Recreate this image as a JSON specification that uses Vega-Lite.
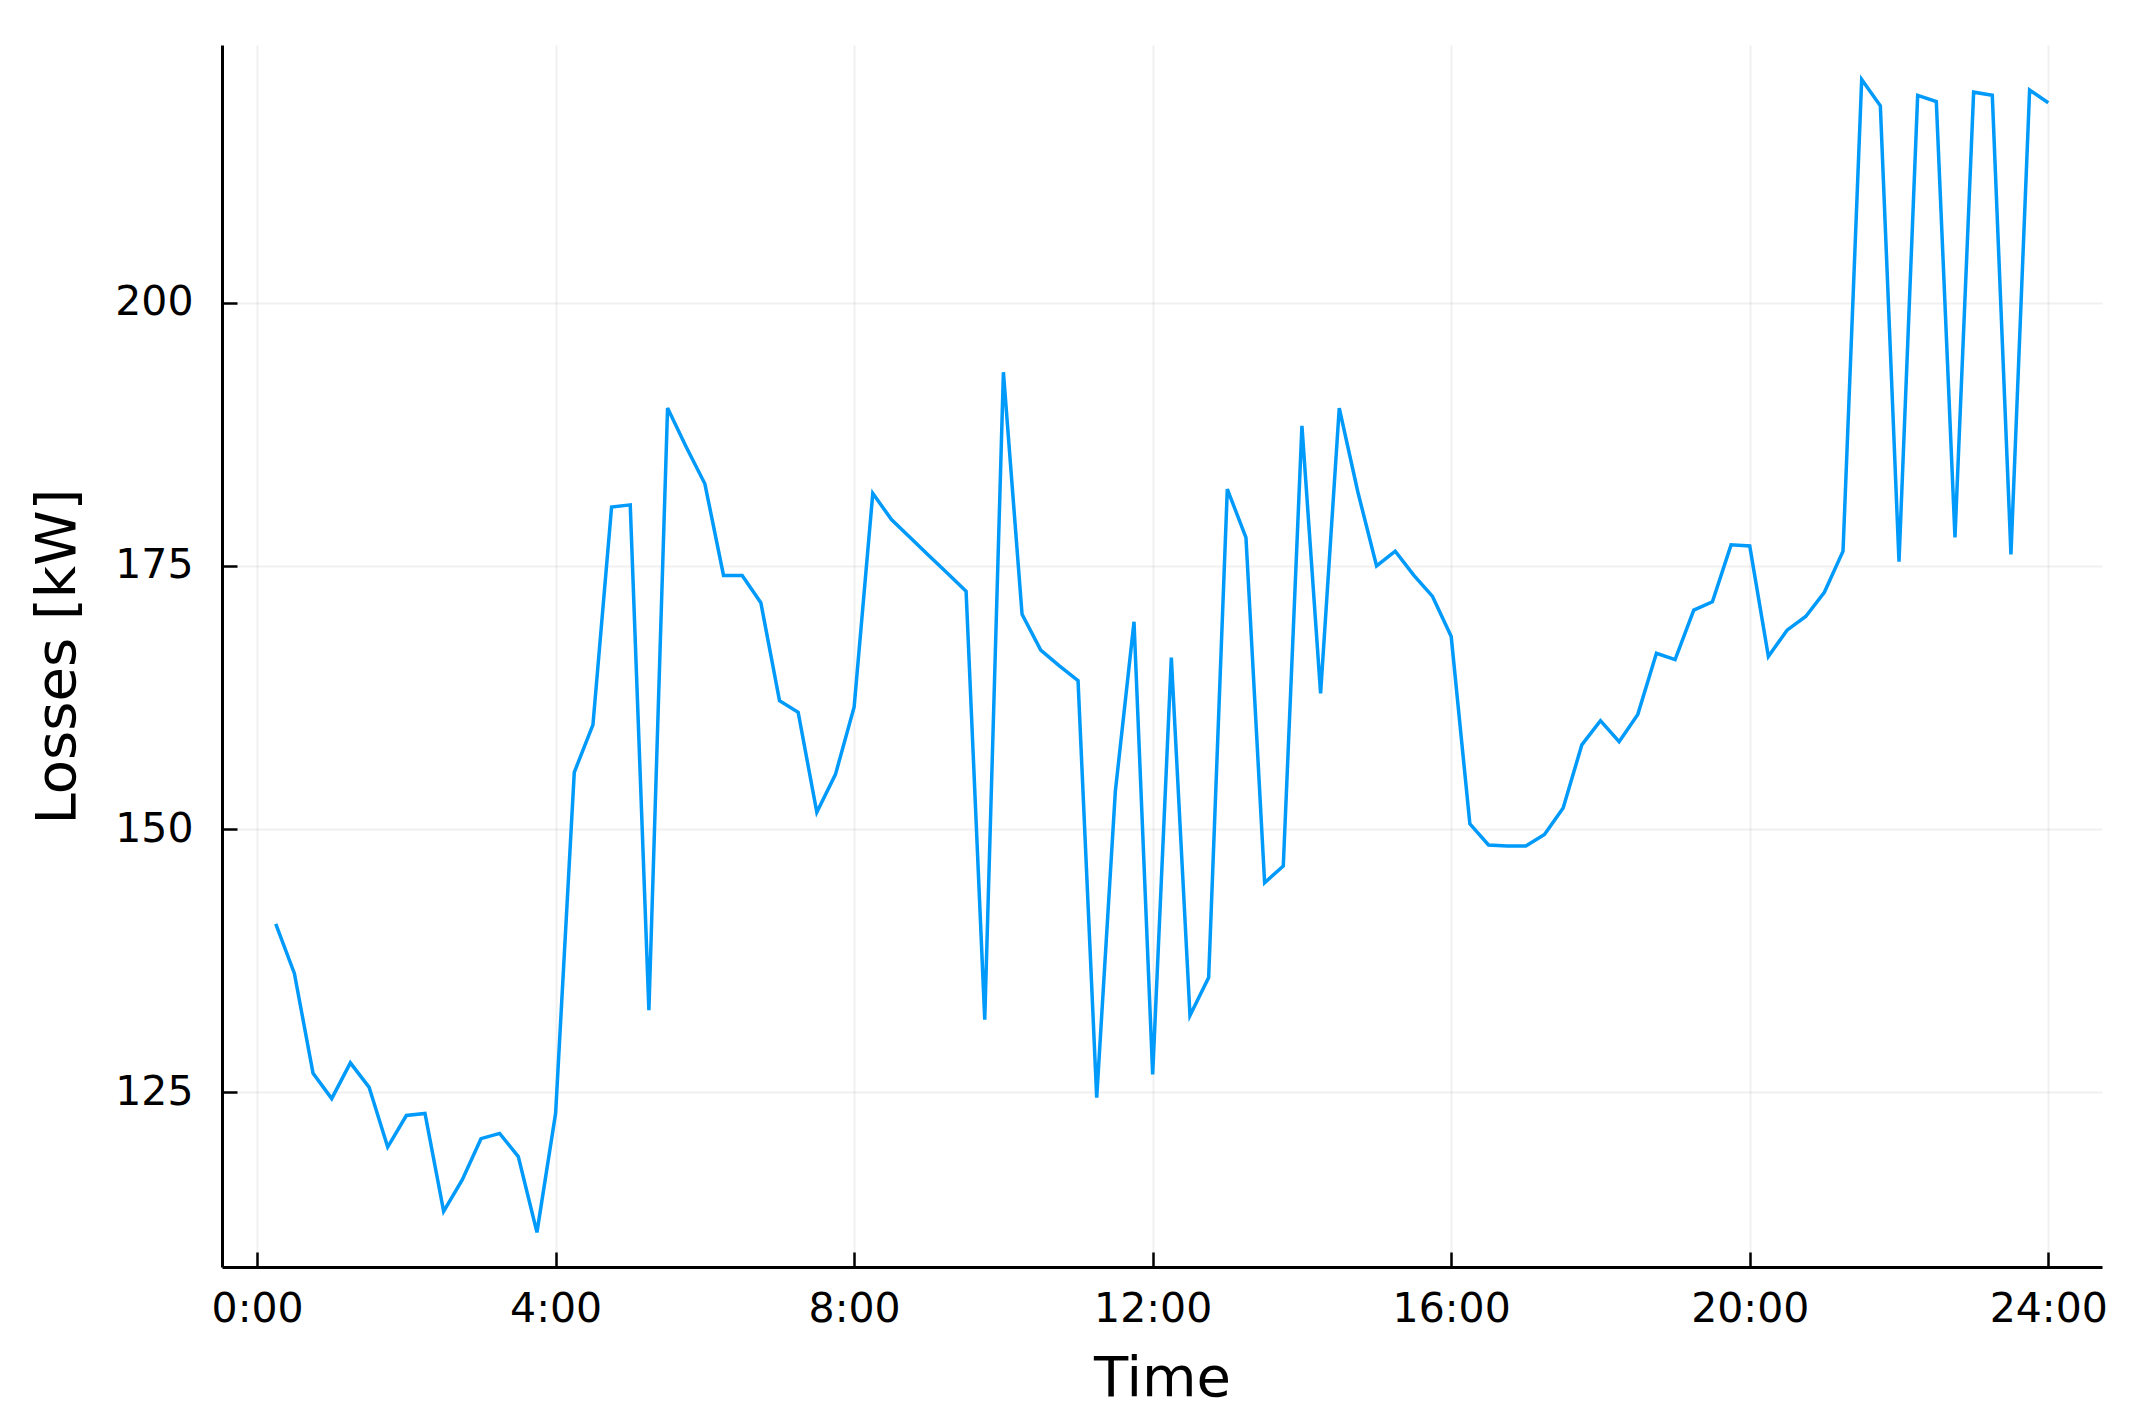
{
  "$schema": "https://vega.github.io/schema/vega-lite/v6.json",
  "autosize": {"type": "none"},
  "padding": {"left": 222, "top": 45, "right": 50, "bottom": 161},
  "width": 1880,
  "height": 1222,
  "background": "white",
  "config": {
    "view": {"stroke": null},
    "font": "DejaVu Sans",
    "axis": {
      "labelFont": "DejaVu Sans",
      "titleFont": "DejaVu Sans",
      "labelFontSize": 41,
      "titleFontSize": 56,
      "titleFontWeight": "normal",
      "labelColor": "#000000",
      "titleColor": "#000000",
      "domainColor": "#000000",
      "domainWidth": 3,
      "tickColor": "#000000",
      "tickWidth": 2.5,
      "tickSize": -15,
      "gridColor": "#000000",
      "gridOpacity": 0.06,
      "gridWidth": 2
    }
  },
  "data": {
    "values": [
      {"t": 0.25, "v": 141.0}, {"t": 0.5, "v": 136.3}, {"t": 0.75, "v": 126.8}, {"t": 1.0, "v": 124.4},
      {"t": 1.25, "v": 127.8}, {"t": 1.5, "v": 125.5}, {"t": 1.75, "v": 119.8}, {"t": 2.0, "v": 122.8},
      {"t": 2.25, "v": 123.0}, {"t": 2.5, "v": 113.7}, {"t": 2.75, "v": 116.7}, {"t": 3.0, "v": 120.6},
      {"t": 3.25, "v": 121.1}, {"t": 3.5, "v": 118.9}, {"t": 3.75, "v": 111.7}, {"t": 4.0, "v": 123.0},
      {"t": 4.25, "v": 155.4}, {"t": 4.5, "v": 159.9}, {"t": 4.75, "v": 180.6}, {"t": 5.0, "v": 180.8},
      {"t": 5.25, "v": 132.8}, {"t": 5.5, "v": 190.0}, {"t": 5.75, "v": 186.3}, {"t": 6.0, "v": 182.8},
      {"t": 6.25, "v": 174.1}, {"t": 6.5, "v": 174.1}, {"t": 6.75, "v": 171.5}, {"t": 7.0, "v": 162.2},
      {"t": 7.25, "v": 161.1}, {"t": 7.5, "v": 151.6}, {"t": 7.75, "v": 155.2}, {"t": 8.0, "v": 161.6},
      {"t": 8.25, "v": 181.9}, {"t": 8.5, "v": 179.4}, {"t": 8.75, "v": 177.7}, {"t": 9.0, "v": 176.0},
      {"t": 9.25, "v": 174.3}, {"t": 9.5, "v": 172.6}, {"t": 9.75, "v": 131.9}, {"t": 10.0, "v": 193.4},
      {"t": 10.25, "v": 170.4}, {"t": 10.5, "v": 167.0}, {"t": 10.75, "v": 165.5}, {"t": 11.0, "v": 164.1},
      {"t": 11.25, "v": 124.5}, {"t": 11.5, "v": 153.6}, {"t": 11.75, "v": 169.7}, {"t": 12.0, "v": 126.7},
      {"t": 12.25, "v": 166.3}, {"t": 12.5, "v": 132.3}, {"t": 12.75, "v": 135.9}, {"t": 13.0, "v": 182.3},
      {"t": 13.25, "v": 177.7}, {"t": 13.5, "v": 144.9}, {"t": 13.75, "v": 146.5}, {"t": 14.0, "v": 188.3},
      {"t": 14.25, "v": 162.9}, {"t": 14.5, "v": 190.0}, {"t": 14.75, "v": 182.0}, {"t": 15.0, "v": 175.0},
      {"t": 15.25, "v": 176.4}, {"t": 15.5, "v": 174.1}, {"t": 15.75, "v": 172.1}, {"t": 16.0, "v": 168.3},
      {"t": 16.25, "v": 150.5}, {"t": 16.5, "v": 148.5}, {"t": 16.75, "v": 148.4}, {"t": 17.0, "v": 148.4},
      {"t": 17.25, "v": 149.5}, {"t": 17.5, "v": 152.0}, {"t": 17.75, "v": 158.0}, {"t": 18.0, "v": 160.3},
      {"t": 18.25, "v": 158.3}, {"t": 18.5, "v": 160.9}, {"t": 18.75, "v": 166.7}, {"t": 19.0, "v": 166.1},
      {"t": 19.25, "v": 170.8}, {"t": 19.5, "v": 171.6}, {"t": 19.75, "v": 177.0}, {"t": 20.0, "v": 176.9},
      {"t": 20.25, "v": 166.4}, {"t": 20.5, "v": 168.9}, {"t": 20.75, "v": 170.2}, {"t": 21.0, "v": 172.5},
      {"t": 21.25, "v": 176.4}, {"t": 21.5, "v": 221.2}, {"t": 21.75, "v": 218.7}, {"t": 22.0, "v": 175.4},
      {"t": 22.25, "v": 219.7}, {"t": 22.5, "v": 219.1}, {"t": 22.75, "v": 177.7}, {"t": 23.0, "v": 220.0},
      {"t": 23.25, "v": 219.7}, {"t": 23.5, "v": 176.1}, {"t": 23.75, "v": 220.2}, {"t": 24.0, "v": 219.0}
    ]
  },
  "mark": {"type": "line", "color": "#009AFA", "strokeWidth": 3.5, "clip": true},
  "encoding": {
    "x": {
      "field": "t",
      "type": "quantitative",
      "scale": {"domain": [-0.47, 24.72], "nice": false, "zero": false},
      "axis": {
        "title": "Time",
        "values": [0, 4, 8, 12, 16, 20, 24],
        "labelExpr": "datum.value + ':00'",
        "labelPadding": 37,
        "titlePadding": 22,
        "labelFlush": false
      }
    },
    "y": {
      "field": "v",
      "type": "quantitative",
      "scale": {"domain": [108.41, 224.48], "nice": false, "zero": false},
      "axis": {
        "title": "Losses [kW]",
        "values": [125, 150, 175, 200],
        "labelPadding": 44,
        "titlePadding": 28,
        "labelFlush": false
      }
    }
  }
}
